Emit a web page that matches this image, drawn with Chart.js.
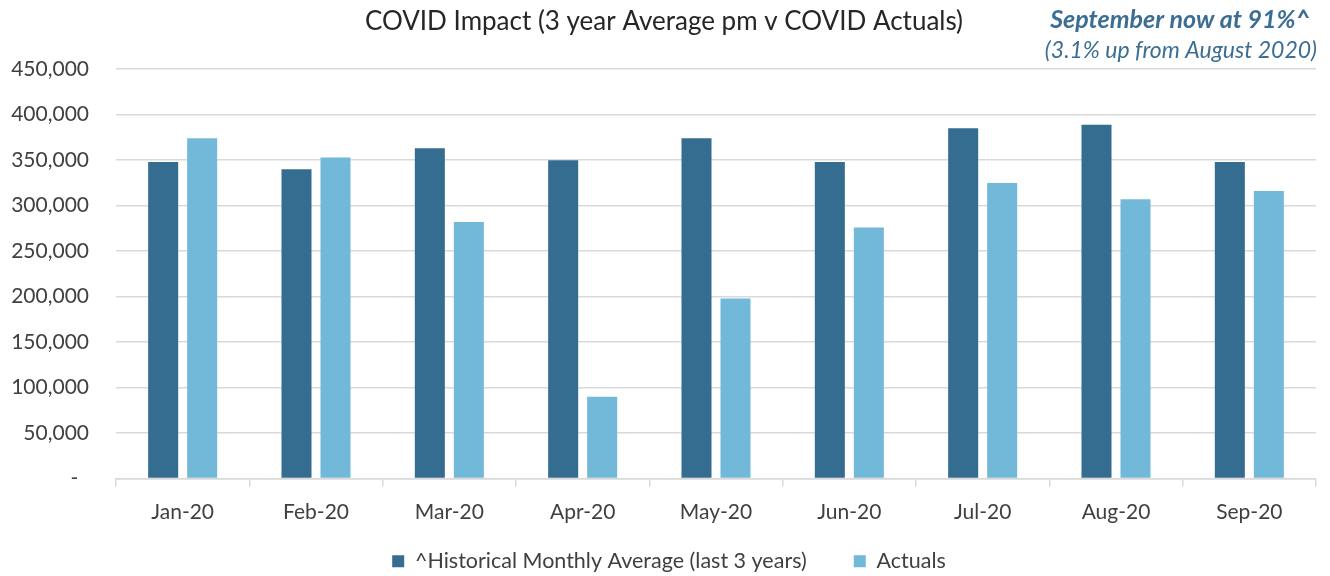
<!DOCTYPE html>
<html><head><meta charset="utf-8">
<script src="https://cdn.jsdelivr.net/npm/chart.js@4.4.1/dist/chart.umd.min.js"></script>
<style>html,body{margin:0;padding:0;background:#fff}</style>
</head><body>
<canvas id="c" width="1330" height="576"></canvas>
<script>
const categories = ['Jan-20','Feb-20','Mar-20','Apr-20','May-20','Jun-20','Jul-20','Aug-20','Sep-20'];
const historical = [348000, 340000, 363000, 350000, 374000, 348000, 385000, 389000, 348000];
const actuals    = [374000, 353000, 282000,  90000, 198000, 276000, 325000, 307000, 316000];
const yTickValues = [0, 50000, 100000, 150000, 200000, 250000, 300000, 350000, 400000, 450000];
const seriesNames = ['^Historical Monthly Average (last 3 years)', 'Actuals'];
const titleText = 'COVID Impact (3 year Average pm v COVID Actuals)';
const noteLines = ['September now at 91%^', '(3.1% up from August 2020)'];

const FONT = 'Lato, "Open Sans", sans-serif';

const notePlugin = {
  id: 'note',
  afterLayout(chart) {
    if (chart.legend) { chart.legend.left += 11; chart.legend.right += 11; }
    if (chart.titleBlock) { chart.titleBlock.left += 6; chart.titleBlock.right += 6; }
  },
  afterDraw(chart) {
    const ctx = chart.ctx;
    ctx.save();
    ctx.fillStyle = '#3C6E93';
    ctx.textAlign = 'right';
    ctx.textBaseline = 'middle';
    ctx.font = 'italic bold 25px ' + FONT;
    ctx.fillText(noteLines[0], 1310, 20);
    ctx.font = 'italic 23px ' + FONT;
    ctx.fillText(noteLines[1], 1317, 51);
    ctx.restore();
  }
};

new Chart(document.getElementById('c'), {
  type: 'bar',
  data: {
    labels: categories,
    datasets: [
      { label: seriesNames[0], data: historical, backgroundColor: '#356D91', borderWidth: 0,
        categoryPercentage: 0.585, barPercentage: 0.77 },
      { label: seriesNames[1], data: actuals, backgroundColor: '#71B8D9', borderWidth: 0,
        categoryPercentage: 0.585, barPercentage: 0.77 }
    ]
  },
  options: {
    responsive: false,
    animation: false,
    layout: { padding: { left: 0, right: 14, top: 0, bottom: -6 } },
    plugins: {
      title: { display: true, text: titleText, color: '#262626',
        font: { family: FONT, size: 26, weight: 'normal' }, padding: { top: 6, bottom: 32 } },
      legend: { position: 'bottom',
        labels: { boxWidth: 12, boxHeight: 12, padding: 3, color: '#404040',
          font: { family: FONT, size: 21.5 },
          generateLabels(chart) {
            const items = Chart.defaults.plugins.legend.labels.generateLabels(chart);
            items[0].text = items[0].text + '        ';
            return items;
          } } },
      tooltip: { enabled: false }
    },
    scales: {
      x: {
        afterFit(scale) { scale.height = 69; },
        grid: { offset: true, drawOnChartArea: false, drawTicks: true, tickLength: 8, color: '#D9D9D9', lineWidth: 1.5 },
        border: { color: '#D9D9D9', width: 1.5 },
        ticks: { color: '#404040', font: { family: FONT, size: 21 }, padding: 13 }
      },
      y: {
        min: 0, max: 450000,
        afterFit(scale) { scale.width = 116; },
        afterBuildTicks(scale) { scale.ticks = yTickValues.map(v => ({ value: v })); },
        grid: { drawTicks: false, color: '#D9D9D9', lineWidth: 1.5 },
        border: { display: false },
        ticks: { color: '#404040', font: { family: FONT, size: 21 }, padding: 27,
          callback: v => v === 0 ? '-  ' : v.toLocaleString('en-US') }
      }
    }
  },
  plugins: [notePlugin]
});
</script>
</body></html>
